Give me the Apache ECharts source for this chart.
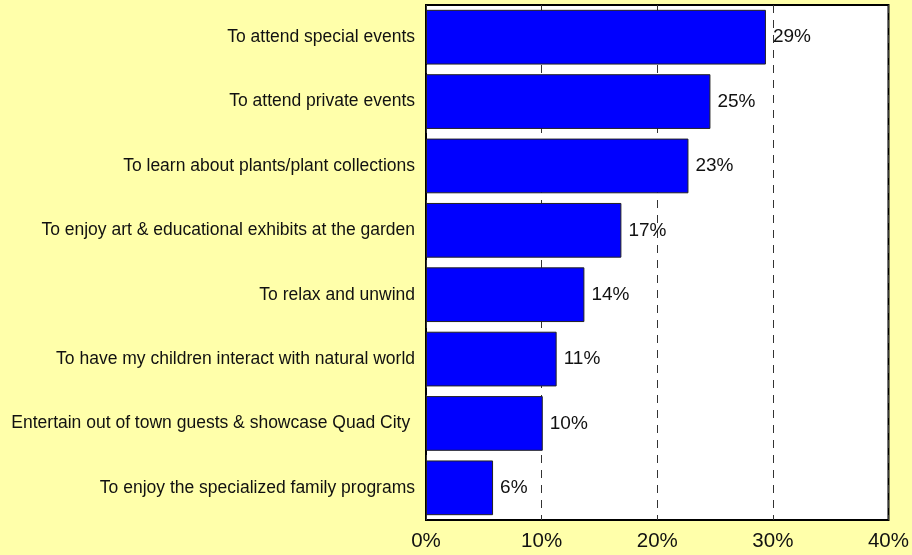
<!DOCTYPE html>
<html>
<head>
<meta charset="utf-8">
<script src="https://cdn.jsdelivr.net/npm/echarts@6/dist/echarts.min.js"></script>
<style>
  html, body { margin: 0; padding: 0; background: #FFFFAA; }
  #chart { width: 912px; height: 555px; }
</style>
</head>
<body>
<div id="chart"></div>
<script>
// Reasons for visiting the garden (share of respondents, %)
const categories = [
  'To attend special events',
  'To attend private events',
  'To learn about plants/plant collections',
  'To enjoy art & educational exhibits at the garden',
  'To relax and unwind',
  'To have my children interact with natural world',
  'Entertain out of town guests & showcase Quad City ',
  'To enjoy the specialized family programs'
];
const shares = [29.4, 24.6, 22.7, 16.9, 13.7, 11.3, 10.1, 5.8];
const axisTicks = [0, 10, 20, 30, 40];

const FONT = "'Liberation Sans', Arial, sans-serif";

const chart = echarts.init(document.getElementById('chart'), null, { renderer: 'canvas' });
chart.setOption({
  backgroundColor: '#FFFFAA',
  animation: false,
  grid: {
    left: 426,
    right: 23,
    top: 5,
    bottom: 35,
    show: true,
    backgroundColor: '#FFFFFF',
    borderColor: '#000000',
    borderWidth: 2
  },
  xAxis: {
    type: 'value',
    min: axisTicks[0],
    max: axisTicks[axisTicks.length - 1],
    interval: axisTicks[1] - axisTicks[0],
    axisLine: { show: false },
    axisTick: { show: false },
    axisLabel: {
      formatter: v => v + '%',
      fontFamily: FONT,
      fontSize: 20.5,
      color: '#111',
      margin: 11
    },
    splitLine: {
      show: true,
      lineStyle: { color: '#333', width: 1, type: [8, 7] }
    }
  },
  yAxis: {
    type: 'category',
    data: categories,
    inverse: true,
    axisLine: { show: false },
    axisTick: { show: false },
    splitLine: { show: false },
    axisLabel: {
      fontFamily: FONT,
      fontSize: 17.5,
      color: '#111',
      margin: 11,
      align: 'right'
    }
  },
  series: [{
    type: 'bar',
    data: shares,
    barCategoryGap: '15%',
    itemStyle: {
      color: '#0000FF',
      borderColor: '#222',
      borderWidth: 1
    },
    label: {
      show: true,
      position: 'right',
      distance: 7,
      formatter: p => Math.round(p.value) + '%',
      fontFamily: FONT,
      fontSize: 19,
      color: '#111'
    }
  }]
});
</script>
</body>
</html>
